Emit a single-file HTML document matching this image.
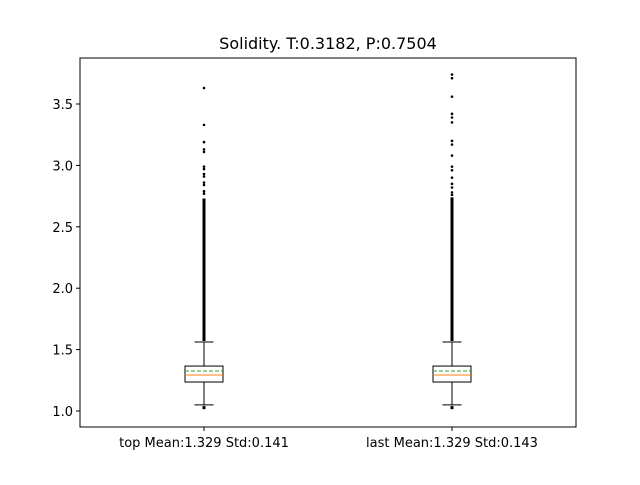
<!DOCTYPE html>
<html><head><meta charset="utf-8"><style>
body{margin:0;background:#fff;}
svg text{font-family:"DejaVu Sans","Liberation Sans",sans-serif;fill:#000;}
</style></head><body>
<svg id="chart" width="640" height="480">
<rect x="0" y="0" width="640" height="480" fill="#fff"/>
<text x="328" y="49" font-size="16" text-anchor="middle">Solidity. T:0.3182, P:0.7504</text>
<g id="plot"></g>
<rect x="80" y="58" width="496" height="369" fill="none" stroke="#000" stroke-width="1"/>
</svg>
<script>
const categories = ["top Mean:1.329 Std:0.141", "last Mean:1.329 Std:0.143"];
const q1 = [1.236, 1.236];
const q3 = [1.366, 1.366];
const medians = [1.293, 1.293];
const means = [1.326, 1.326];
const whiskerLo = [1.05, 1.05];
const whiskerHi = [1.562, 1.562];
const denseHigh = [[1.57, 2.73], [1.57, 2.74]];
const denseLow = [[1.015, 1.04], [1.015, 1.04]];
const fliersTop = [3.63, 3.33, 3.19, 3.13, 3.11, 2.99, 2.97, 2.93, 2.91, 2.86, 2.84, 2.79, 2.77];
const fliersLast = [3.74, 3.71, 3.56, 3.42, 3.39, 3.35, 3.20, 3.17, 3.08, 2.99, 2.96, 2.90, 2.85, 2.82, 2.78, 2.76];
const fliers = [fliersTop, fliersLast];
const yTicks = [1.0, 1.5, 2.0, 2.5, 3.0, 3.5];
const yTickLabels = ["1.0", "1.5", "2.0", "2.5", "3.0", "3.5"];

const NS = "http://www.w3.org/2000/svg";
const g = document.getElementById("plot");
function y(v){ return 411 - (v - 1) * 122.8; }
function x(i){ return 204 + i * 248; }
function mk(tag, attrs, parent){
  const e = document.createElementNS(NS, tag);
  for (const k in attrs) e.setAttribute(k, attrs[k]);
  (parent || g).appendChild(e);
  return e;
}
yTicks.forEach((t, i) => {
  const l = mk("line", {x1: 76, x2: 80, y1: y(t), y2: y(t), stroke: "#000"});
  
  
  const tx = mk("text", {x: 73, y: y(t) + 5, "font-size": 13, "text-anchor": "end"});
  tx.textContent = yTickLabels[i];
  
  
});
categories.forEach((c, i) => {
  const cx = x(i), w = 38, cap = 19;
  const grp = mk("g", {});
  
  
  mk("line", {x1: cx, x2: cx, y1: y(q1[i]), y2: y(whiskerLo[i]), stroke: "#000"}, grp);
  mk("line", {x1: cx, x2: cx, y1: y(q3[i]), y2: y(whiskerHi[i]), stroke: "#000"}, grp);
  mk("line", {x1: cx - cap/2, x2: cx + cap/2, y1: y(whiskerLo[i]), y2: y(whiskerLo[i]), stroke: "#000"}, grp);
  mk("line", {x1: cx - cap/2, x2: cx + cap/2, y1: y(whiskerHi[i]), y2: y(whiskerHi[i]), stroke: "#000"}, grp);
  mk("rect", {x: cx - w/2, y: y(q3[i]), width: w, height: y(q1[i]) - y(q3[i]), fill: "none", stroke: "#000"}, grp);
  mk("line", {x1: cx - w/2, x2: cx + w/2, y1: y(medians[i]), y2: y(medians[i]), stroke: "#ff7f0e"}, grp);
  mk("line", {x1: cx - w/2, x2: cx + w/2, y1: y(means[i]), y2: y(means[i]), stroke: "#2ca02c", "stroke-dasharray": "4,2"}, grp);
  [denseHigh[i], denseLow[i]].forEach(r => {
    mk("line", {x1: cx, x2: cx, y1: y(r[0]), y2: y(r[1]), stroke: "#000", "stroke-width": 3}, grp);
  });
  fliers[i].forEach(v => {
    const p = mk("circle", {cx: cx, cy: y(v), r: 1.3, fill: "#000"}, grp);
    
    
  });
  const t = mk("line", {x1: cx, x2: cx, y1: 427, y2: 431, stroke: "#000"});
  
  
  const lb = mk("text", {x: cx, y: 447, "font-size": 13, "text-anchor": "middle"});
  lb.textContent = c;
  
  
});
</script>
</body></html>
